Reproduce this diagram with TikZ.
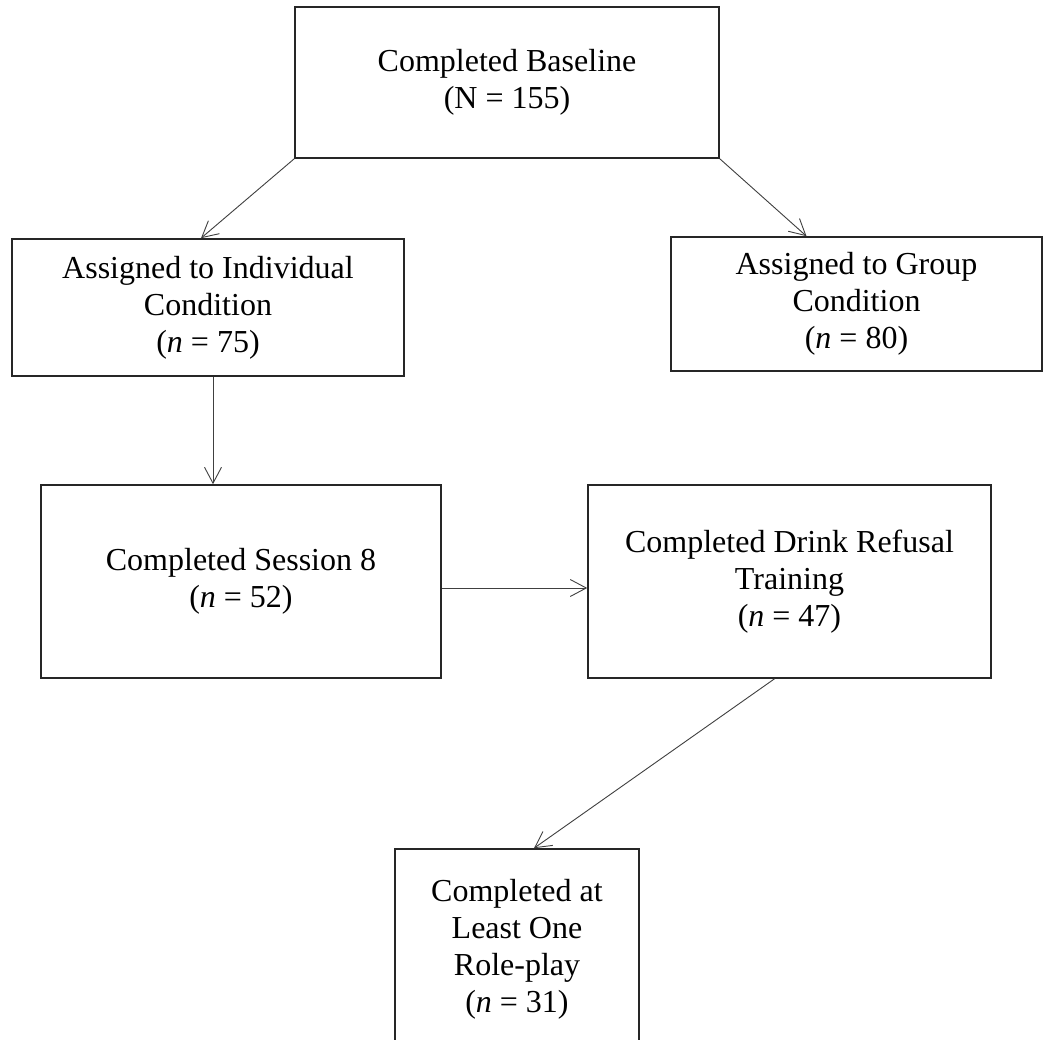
\documentclass[tikz,border=0pt]{standalone}
\usepackage{fontspec}
\setmainfont{Liberation Serif}
\usetikzlibrary{arrows.meta,calc}
\begin{document}
\begin{tikzpicture}[x=1pt,y=-1pt,
  box/.style={draw=black!85, line width=1.6pt, align=center, inner sep=0pt,
    font=\fontsize{32}{37}\selectfont, anchor=center},
  arr/.style={draw=black!75, line width=0.9pt,
    -{Straight Barb[length=16pt,width=17pt,line width=0.9pt]}}]
\useasboundingbox[fill=white] (0,0) rectangle (1047,1040);
\node[box, minimum width=424pt, minimum height=151pt] (base) at (507,82.5)
  {Completed Baseline\\(N = 155)};
\node[box, minimum width=392pt, minimum height=137pt] (ind) at (208,307.5)
  {Assigned to Individual\\Condition\\(\textit{n} = 75)};
\node[box, minimum width=371pt, minimum height=134pt] (grp) at (856.5,304)
  {Assigned to Group\\Condition\\(\textit{n} = 80)};
\node[box, minimum width=400pt, minimum height=193pt] (s8) at (241,581.5)
  {Completed Session 8\\(\textit{n} = 52)};
\node[box, minimum width=403pt, minimum height=193pt] (drink) at (789.5,581.5)
  {Completed Drink Refusal\\Training\\(\textit{n} = 47)};
\node[box, minimum width=244pt, minimum height=201pt] (role) at (517,949.5)
  {Completed at\\Least One\\Role-play\\(\textit{n} = 31)};
\draw[arr] (base.south west) -- ($(ind.north)+(-7,0)$);
\draw[arr] (base.south east) -- ($(grp.north)+(-50,0)$);
\draw[arr] ($(ind.south)+(5,0)$) -- ($(s8.north)+(-28,0)$);
\draw[arr] ($(s8.east)+(0,6.5)$) -- ($(drink.west)+(0,6.5)$);
\draw[arr] ($(drink.south)+(-15,0)$) -- ($(role.north)+(17,0)$);
\end{tikzpicture}
\end{document}
